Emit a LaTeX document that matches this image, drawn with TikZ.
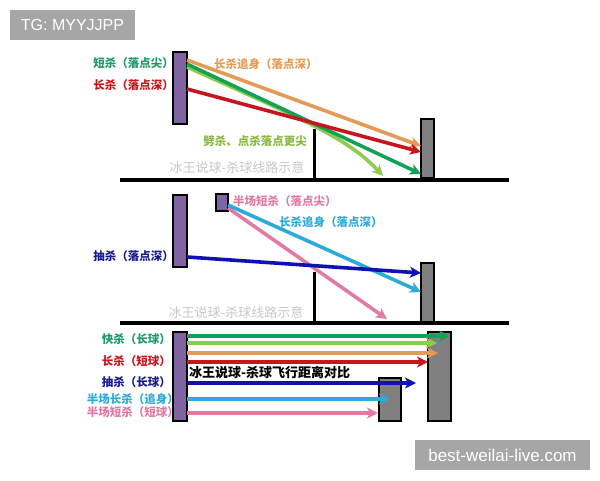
\documentclass[tikz,border=0pt]{standalone}
\usepackage{fontspec}
\setmainfont{Liberation Sans}
\newfontfamily\cjk{Noto Sans CJK SC}
\usepackage{xcolor}
\usetikzlibrary{arrows.meta}
\usetikzlibrary{positioning}
\definecolor{racketpurple}{HTML}{8064A2}
\definecolor{wallgrey}{HTML}{808080}
\definecolor{sorange}{HTML}{E59B58}
\definecolor{sred}{HTML}{C8151D}
\definecolor{sgreen}{HTML}{13A156}
\definecolor{slight}{HTML}{8FCB4E}
\definecolor{snavy}{HTML}{1010B4}
\definecolor{scyan}{HTML}{2CAAD8}
\definecolor{spink}{HTML}{E27AA3}
\definecolor{lgreen}{HTML}{1E9A68}
\definecolor{llight}{HTML}{8BB843}
\definecolor{lnavy}{HTML}{1A1A8C}
\definecolor{wmgrey}{HTML}{A6A6A6}
\tikzset{
  racket_p/.style = {draw=black, fill=racketpurple, line width=1.2pt,
    inner sep=0pt, outer sep=0pt},% raquette
  wall_g/.style = {draw=black, fill=wallgrey, line width=1.2pt,
    inner sep=0pt, outer sep=0pt},% filet / cible
  shot/.style = {line width=3.6pt,
    -{Stealth[length=11pt,width=11pt,inset=3pt]}},% trajectoire
  lbl/.style = {inner sep=0pt, font=\cjk\bfseries\fontsize{11.5}{13}\selectfont},
  ghost/.style = {inner sep=0pt, text=black!22,
    font=\cjk\fontsize{13}{15}\selectfont},% filigrane gris
  wm/.style = {fill=wmgrey, text=white, inner sep=0pt}
}

\begin{document}
\begin{tikzpicture}[x=1pt,y=-1pt]
\useasboundingbox (0,0) rectangle (600,480);
% sols et filets
\draw[line width=4pt] (120,180) -- (509,180);
\draw[line width=3pt] (314,180) -- (314,129);
\draw[line width=4pt] (120,323) -- (509,323);
\draw[line width=3pt] (314,323) -- (314,272);

% rectangles
\node[racket_p, minimum width=14pt, minimum height=72pt] (r1) at (180,88) {};
\node[wall_g, minimum width=13pt, minimum height=59pt] (w1) at (427.5,148.5) {};
\node[racket_p, minimum width=14pt, minimum height=72pt] (r2) at (180,231) {};
\node[racket_p, minimum width=12pt, minimum height=17pt] (sq) at (222,202.5) {};
\node[wall_g, minimum width=13pt, minimum height=59pt] (w2) at (427.5,292.5) {};
\node[racket_p, minimum width=14pt, minimum height=89pt] (r3) at (180,376.5) {};
\node[wall_g, minimum width=23pt, minimum height=89pt] (w3) at (439.5,376.5) {};
\node[wall_g, minimum width=22pt, minimum height=43pt] (w4) at (390,399.5) {};

% trajectoires haut
\coordinate (lg1) at (383,176);
\draw[shot, slight] ([yshift=-15pt]r1.north east) .. controls (300,118) and (348,138) .. (lg1);
\draw[shot, sgreen] ([yshift=-12pt]r1.north east) -- ([yshift=-55pt]w1.north west);
\draw[shot, sorange] ([yshift=-8pt]r1.north east) -- ([yshift=-27pt]w1.north west);
\draw[shot, sred] ([yshift=-37pt]r1.north east) -- ([yshift=-33pt]w1.north west);

% trajectoires milieu
\coordinate (pk1) at (387,319);
\draw[shot, spink] ([yshift=3pt]sq.south east) -- (pk1);
\draw[shot, scyan] ([yshift=6pt]sq.south east) -- ([yshift=-29pt]w2.north west);
\draw[shot, snavy] ([yshift=-62pt]r2.north east) -- ([yshift=-10pt]w2.north west);

% trajectoires bas
\foreach \i/\col/\y/\xe in {1/sgreen/336/450, 2/slight/343/437, 3/sorange/353/438,
  4/sred/362/428, 5/snavy/383/416, 6/scyan/399/390, 7/spink/413/378}
{
  \coordinate (e\i) at (\xe,\y);
  \draw[shot, \col] (r3.east |- e\i) -- (e\i);
}

% textes
\node[lbl, text=lgreen, anchor=east] (t1) at (174,63) {短杀（落点尖）};
\node[lbl, text=sred, anchor=east] (t2) at (174,85) {长杀（落点深）};
\node[lbl, text=sorange, anchor=west] (t3) at (214,64) {长杀追身（落点深）};
\node[lbl, text=llight] (t4) at (255,141) {劈杀、点杀落点更尖};
\node[ghost] (g1) at (237,168) {冰王说球-杀球线路示意};

\node[lbl, text=spink, anchor=west] (t5) at (233,201) {半场短杀（落点尖）};
\node[lbl, text=scyan, anchor=west] (t6) at (279,222) {长杀追身（落点深）};
\node[lbl, text=lnavy, anchor=east] (t7) at (174,256) {抽杀（落点深）};
\node[ghost] (g2) at (236,313) {冰王说球-杀球线路示意};

\node[lbl, text=lgreen, anchor=east] (b1) at (171,339) {快杀（长球）};
\node[lbl, text=sred, anchor=east] (b2) at (171,361) {长杀（短球）};
\node[lbl, text=lnavy, anchor=east] (b3) at (171,382) {抽杀（长球）};
\node[lbl, text=scyan, anchor=east] (b4) at (179,399) {半场长杀（追身）};
\node[lbl, text=spink, anchor=east] (b5) at (179,412) {半场短杀（短球）};
\node[inner sep=0pt, anchor=west, font=\cjk\bfseries\fontsize{13}{15}\selectfont] (tt) at (189,372.5) {冰王说球-杀球飞行距离对比};

% filigranes
\node[wm, minimum width=125pt, minimum height=30pt, font=\fontsize{16}{18}\selectfont] (tg) at (72.5,25) {TG: MYYJJPP};
\node[wm, minimum width=175pt, minimum height=30pt, font=\fontsize{17}{19}\selectfont] (bw) at (502.5,455) {best-weilai-live.com};
\end{tikzpicture}
\end{document}
